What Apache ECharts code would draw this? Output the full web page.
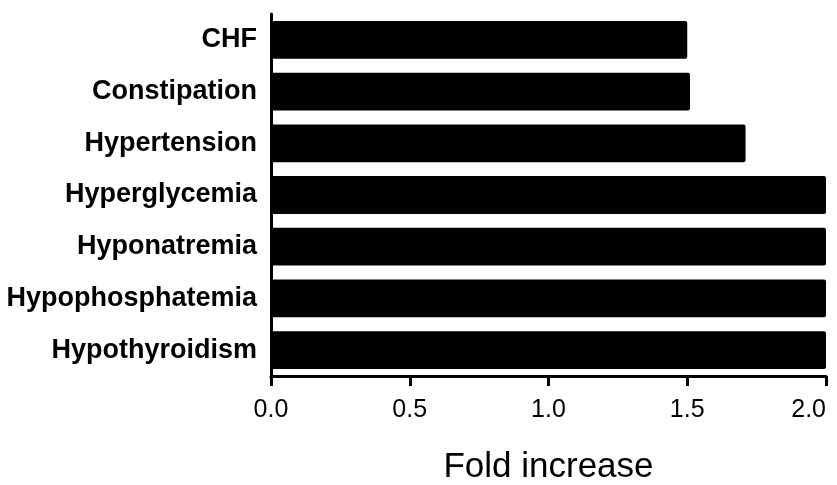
<!DOCTYPE html>
<html>
<head>
<meta charset="utf-8">
<script src="https://cdn.jsdelivr.net/npm/echarts@6/dist/echarts.min.js"></script>
<style>
  html, body { margin: 0; padding: 0; background: #fff; }
  #chart { width: 837px; height: 485px; }
</style>
</head>
<body>
<div id="chart"></div>
<script>
// Adverse events, top to bottom
const conditions = ['CHF', 'Constipation', 'Hypertension', 'Hyperglycemia', 'Hyponatremia', 'Hypophosphatemia', 'Hypothyroidism'];
const foldIncrease = [1.50, 1.51, 1.71, 2.0, 2.0, 2.0, 2.0];
const xTicks = [0.0, 0.5, 1.0, 1.5, 2.0];

const chart = echarts.init(document.getElementById('chart'), null, { renderer: 'canvas' });

chart.setOption({
  animation: false,
  grid: { left: 271, right: 11, top: 14, bottom: 109, containLabel: false, outerBoundsMode: 'none' },
  xAxis: {
    type: 'value',
    min: xTicks[0],
    max: xTicks[xTicks.length - 1],
    interval: 0.5,
    name: 'Fold increase',
    nameLocation: 'middle',
    nameGap: 74,
    nameTextStyle: { fontFamily: 'Liberation Sans', fontSize: 35, color: '#000' },
    axisLine: { show: true, lineStyle: { color: '#000', width: 3 } },
    axisTick: { show: true, length: 10, lineStyle: { color: '#000', width: 3 } },
    axisLabel: {
      fontFamily: 'Liberation Sans', fontSize: 25, color: '#000', margin: 22,
      alignMaxLabel: 'right',
      formatter: v => v.toFixed(1)
    },
    splitLine: { show: false }
  },
  yAxis: {
    type: 'category',
    data: conditions,
    inverse: true,
    axisLine: { show: true, lineStyle: { color: '#000', width: 3 } },
    axisTick: { show: false },
    axisLabel: {
      fontFamily: 'Liberation Sans', fontWeight: 'bold', fontSize: 27, color: '#000', margin: 14
    }
  },
  series: [{
    type: 'bar',
    data: foldIncrease,
    barCategoryGap: '27%',
    itemStyle: { color: '#000', borderRadius: 2 }
  }]
});
</script>
</body>
</html>
